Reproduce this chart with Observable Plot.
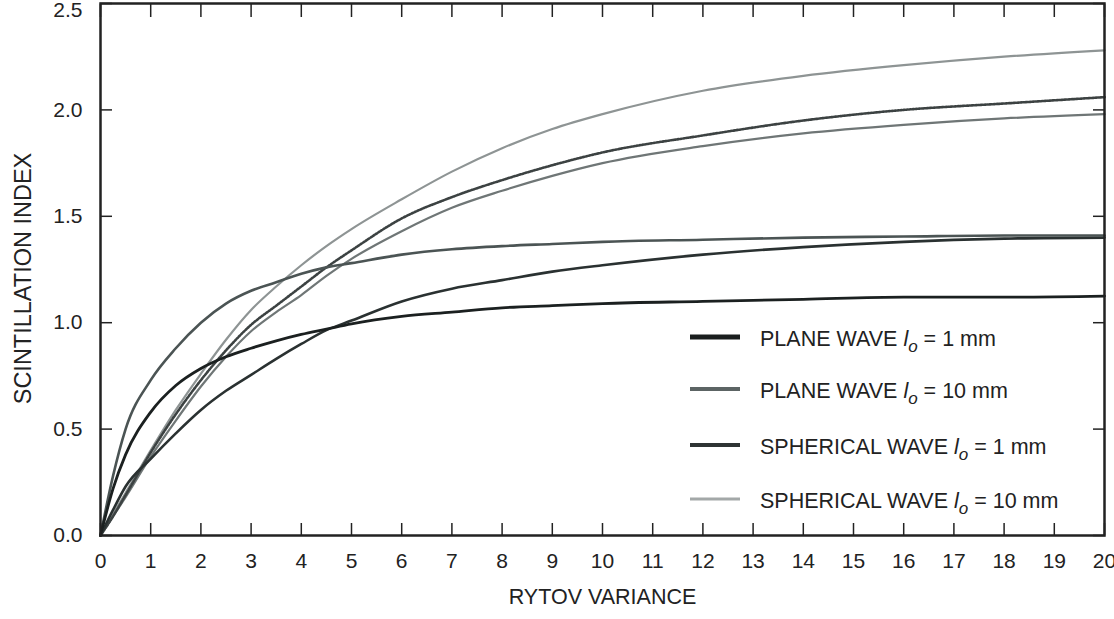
<!DOCTYPE html>
<html>
<head>
<meta charset="utf-8">
<script src="https://cdn.jsdelivr.net/npm/d3@7"></script>
<script src="https://cdn.jsdelivr.net/npm/@observablehq/plot@0.6"></script>
<style>
  html, body { margin: 0; padding: 0; background: #fff; }
  #chart { width: 1114px; height: 619px; }
</style>
</head>
<body>
<div id="chart"></div>
<script>
// ---- data ----
const rytovVariance = [0, 0.25, 0.5, 1, 1.5, 2, 2.5, 3, 3.5, 4, 4.5, 5, 6, 7, 8, 9, 10, 12, 14, 16, 18, 20];

const planeWave1mm   = [0, 0.22, 0.38, 0.58, 0.705, 0.785, 0.84, 0.88, 0.915, 0.945, 0.97, 0.995, 1.03, 1.05, 1.07, 1.08, 1.09, 1.10, 1.11, 1.12, 1.12, 1.125];
const planeWave10mm  = [0, 0.28, 0.50, 0.73, 0.88, 1.00, 1.09, 1.15, 1.19, 1.23, 1.26, 1.28, 1.32, 1.345, 1.36, 1.37, 1.38, 1.39, 1.40, 1.405, 1.41, 1.41];
const spherical1mm   = [0, 0.12, 0.23, 0.36, 0.48, 0.59, 0.68, 0.755, 0.83, 0.90, 0.965, 1.01, 1.10, 1.16, 1.20, 1.24, 1.27, 1.32, 1.355, 1.38, 1.395, 1.40];
const spherical10mm  = [0, 0.10, 0.20, 0.40, 0.59, 0.76, 0.92, 1.06, 1.17, 1.27, 1.36, 1.44, 1.58, 1.71, 1.82, 1.91, 1.98, 2.09, 2.16, 2.21, 2.25, 2.28];
const dottedCurve    = [0, 0.09, 0.19, 0.39, 0.57, 0.73, 0.87, 0.99, 1.08, 1.17, 1.26, 1.34, 1.49, 1.59, 1.67, 1.74, 1.80, 1.88, 1.95, 2.00, 2.03, 2.06];
const solidGrayCurve = [0, 0.09, 0.18, 0.37, 0.54, 0.70, 0.84, 0.96, 1.05, 1.13, 1.22, 1.30, 1.43, 1.54, 1.62, 1.69, 1.75, 1.83, 1.89, 1.93, 1.96, 1.98];

const xTicks = [0, 1, 2, 3, 4, 5, 6, 7, 8, 9, 10, 11, 12, 13, 14, 15, 16, 17, 18, 19, 20];
const yTicks = [0, 0.5, 1.0, 1.5, 2.0, 2.5];

const legendNames = ["PLANE WAVE", "PLANE WAVE", "SPHERICAL WAVE", "SPHERICAL WAVE"];
const legendScale = ["1 mm", "10 mm", "1 mm", "10 mm"];

// ---- styles ----
const series = [
  {name: "spherical10mm", values: spherical10mm,  stroke: "#8e9494", width: 2.2, dash: null},
  {name: "solidGray",     values: solidGrayCurve, stroke: "#6f7676", width: 2.2, dash: null},
  {name: "dotted",        values: dottedCurve,    stroke: "#3c4242", width: 2.6, dash: "1.6,1.4"},
  {name: "spherical1mm",  values: spherical1mm,   stroke: "#2a3131", width: 2.6, dash: null},
  {name: "planeWave10mm", values: planeWave10mm,  stroke: "#4b5454", width: 2.6, dash: null},
  {name: "planeWave1mm",  values: planeWave1mm,   stroke: "#1b2020", width: 2.8, dash: null}
];
const legendStyles = [
  {stroke: "#1a1e1e", width: 5},
  {stroke: "#5c6464", width: 4},
  {stroke: "#2e3434", width: 4},
  {stroke: "#a3a8a8", width: 3}
];

const fontFamily = '"Liberation Sans", Arial, Helvetica, sans-serif';
const ink = "#222";

const lineMarks = series.map(s => Plot.line(
  rytovVariance.map((x, i) => ({x, y: s.values[i]})),
  {x: "x", y: "y", stroke: s.stroke, strokeWidth: s.width, strokeDasharray: s.dash, curve: "monotone-x"}
));

const yTicksInner = yTicks.filter(v => v < 2.5);
const yTicksTop = yTicks.filter(v => v >= 2.5);

const plot = Plot.plot({
  width: 1114,
  height: 619,
  marginLeft: 100,
  marginRight: 10,
  marginTop: 3,
  marginBottom: 84,
  style: {fontFamily, fontSize: "21px", color: ink, background: "#fff", overflow: "visible"},
  x: {domain: [0, 20]},
  y: {domain: [0, 2.5]},
  marks: [
    ...lineMarks,
    Plot.frame({stroke: ink, strokeWidth: 2.5}),
    Plot.axisX({ticks: xTicks, anchor: "bottom", tickSize: 0, tickPadding: 18, tickFormat: d3.format("d"), label: null, fontSize: 21}),
    Plot.axisX({ticks: xTicks, anchor: "bottom", tickSize: -12, tickFormat: () => "", label: null, strokeWidth: 1.5}),
    Plot.axisX({ticks: xTicks, anchor: "top", tickSize: -13, tickFormat: () => "", label: null, strokeWidth: 1.5}),
    Plot.axisY({ticks: yTicksInner, anchor: "left", tickSize: 0, tickPadding: 18, tickFormat: d3.format(".1f"), label: null, fontSize: 21}),
    Plot.axisY({ticks: yTicksTop, anchor: "left", tickSize: 0, tickPadding: 18, tickFormat: d3.format(".1f"), label: null, fontSize: 21, dy: 7}),
    Plot.axisY({ticks: yTicks, anchor: "left", tickSize: -12, tickFormat: () => "", label: null, strokeWidth: 1.5}),
    Plot.axisY({ticks: yTicks, anchor: "right", tickSize: -12, tickFormat: () => "", label: null, strokeWidth: 1.5}),
    Plot.text(["RYTOV VARIANCE"], {frameAnchor: "bottom", dy: 68, fontSize: 21.5, fill: ink}),
    Plot.text(["SCINTILLATION INDEX"], {frameAnchor: "left", textAnchor: "middle", dx: -77, dy: 9, rotate: -90, fontSize: 23.5, fill: ink})
  ]
});

document.getElementById("chart").appendChild(plot);

// ---- legend (inside the plot frame) ----
const svg = d3.select(plot);
const legend = svg.append("g")
  .attr("font-family", fontFamily)
  .attr("font-size", 21.5)
  .attr("text-anchor", "start")
  .attr("fill", ink);
const rowY = [337, 389, 445, 499];
legendNames.forEach((name, i) => {
  const y = rowY[i];
  legend.append("line")
    .attr("x1", 690).attr("x2", 740).attr("y1", y).attr("y2", y)
    .attr("stroke", legendStyles[i].stroke)
    .attr("stroke-width", legendStyles[i].width);
  const t = legend.append("text").attr("x", 760).attr("y", y + 8.5).attr("text-anchor", "start");
  t.append("tspan").text(name + " ");
  t.append("tspan").attr("font-style", "italic").text("l");
  t.append("tspan").attr("font-style", "italic").attr("font-size", 17).attr("dy", 6).text("o");
  t.append("tspan").attr("dy", -6).text(" = " + legendScale[i]);
});
</script>
</body>
</html>
